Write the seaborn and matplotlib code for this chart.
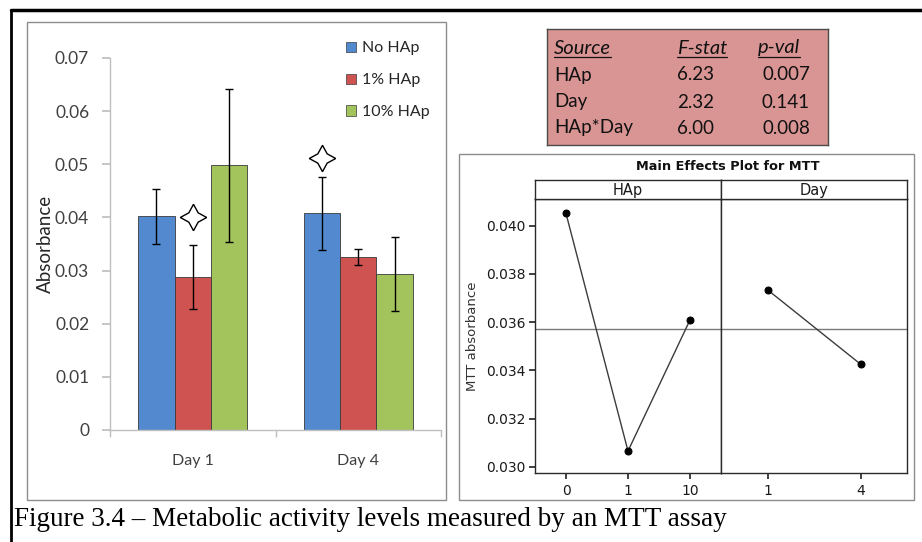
import numpy as np
import pandas as pd
import matplotlib
matplotlib.use("Agg")
import matplotlib.pyplot as plt
from matplotlib.patches import Patch, Rectangle
from matplotlib.lines import Line2D
import seaborn as sns

# ---------------- data ----------------
days = ["Day 1", "Day 4"]
groups = ["No HAp", "1% HAp", "10% HAp"]
no_hap = [0.0402, 0.0408]
one_hap = [0.0288, 0.0326]
ten_hap = [0.0498, 0.0293]
no_hap_err = [0.0052, 0.0069]
one_hap_err = [0.0060, 0.0015]
ten_hap_err = [0.0144, 0.0070]
star_group = ["1% HAp", "No HAp"]
star_day = ["Day 1", "Day 4"]
star_y = [0.0401, 0.0512]
yticks_left = [0, 0.01, 0.02, 0.03, 0.04, 0.05, 0.06, 0.07]
ytick_labels_left = ["0", "0.01", "0.02", "0.03", "0.04", "0.05", "0.06", "0.07"]

table_header = ["Source", "F-stat", "p-val"]
table_source = ["HAp", "Day", "HAp*Day"]
table_f = ["6.23", "2.32", "6.00"]
table_p = ["0.007", "0.141", "0.008"]

hap_levels = ["0", "1", "10"]
hap_means = [0.0405, 0.03066, 0.03609]
day_levels = ["1", "4"]
day_means = [0.03734, 0.03426]
grand_mean = 0.03573
yticks_right = [0.030, 0.032, 0.034, 0.036, 0.038, 0.040]
ytick_labels_right = ["0.030", "0.032", "0.034", "0.036", "0.038", "0.040"]

caption = "Figure 3.4 \u2013 Metabolic activity levels measured by an MTT assay"

# ---------------- figure ----------------
sns.set_theme(style="white")
plt.rcParams["font.family"] = ["Lato", "DejaVu Sans"]
W, H = 922, 542
fig = plt.figure(figsize=(W / 100, H / 100), dpi=100)
fig.patch.set_facecolor("white")


def rect(x0, y0, x1, y1):
    return [x0 / W, 1 - y1 / H, (x1 - x0) / W, (y1 - y0) / H]


def fx(x):
    return x / W


def fy(y):
    return 1 - y / H


# outer frame lines
fig.add_artist(Line2D([fx(11), fx(922)], [fy(10), fy(10)], color="black", lw=2.5))
fig.add_artist(Line2D([fx(11), fx(11)], [fy(10), fy(542)], color="black", lw=2.0))
# left chart border
fig.add_artist(Rectangle((fx(27), fy(500)), fx(446) - fx(27), fy(22) - fy(500),
                         fill=False, edgecolor="#8c8c8c", lw=1.0, transform=fig.transFigure))
# right main-effects border
fig.add_artist(Rectangle((fx(459), fy(500)), fx(914) - fx(459), fy(154) - fy(500),
                         fill=False, edgecolor="#8c8c8c", lw=1.0, transform=fig.transFigure))

# ---------------- left bar chart ----------------
colors = ["#5289cf", "#cf5350", "#a3c35c"]
df = pd.DataFrame({
    "Day": days * 3,
    "Group": [g for g in groups for _ in days],
    "Absorbance": no_hap + one_hap + ten_hap,
})
ax1 = fig.add_axes(rect(110, 58, 441, 430))
sns.barplot(data=df, x="Day", y="Absorbance", hue="Group", order=days, hue_order=groups,
            palette=colors, width=0.66, errorbar=None, saturation=1,
            edgecolor="#3a3a3a", linewidth=0.6, ax=ax1, legend=False)
errs = [no_hap_err, one_hap_err, ten_hap_err]
centers = {}
for g, cont, e in zip(groups, ax1.containers, errs):
    xs = [p.get_x() + p.get_width() / 2 for p in cont]
    ys = [p.get_height() for p in cont]
    for d, x in zip(days, xs):
        centers[(g, d)] = x
    ax1.errorbar(xs, ys, yerr=e, fmt="none", ecolor="black", elinewidth=1.0,
                 capsize=3, capthick=1.0, zorder=5)
for g, d, y in zip(star_group, star_day, star_y):
    ax1.plot([centers[(g, d)]], [y], marker=(4, 1, 0), markersize=19,
             markerfacecolor="white", markeredgecolor="black", markeredgewidth=1.0,
             linestyle="none", zorder=6)

ax1.set_ylim(0, 0.07)
ax1.set_xlim(-0.5, 1.5)
ax1.set_yticks(yticks_left)
ax1.set_yticklabels(ytick_labels_left)
ax1.set_xlabel("")
ax1.set_ylabel("Absorbance", fontsize=13.5, color="#262626", labelpad=1)
for s in ["top", "right"]:
    ax1.spines[s].set_visible(False)
for s in ["left", "bottom"]:
    ax1.spines[s].set_color("#bfbfbf")
    ax1.spines[s].set_linewidth(1.0)
ax1.tick_params(axis="y", which="major", left=True, length=6, color="#bfbfbf",
                labelsize=12.5, labelcolor="#404040", pad=9)
ax1.set_xticks([-0.5, 0.5, 1.5], minor=True)
ax1.tick_params(axis="x", which="minor", bottom=True, length=5, color="#bfbfbf")
ax1.tick_params(axis="x", which="major", bottom=False, length=0, labelsize=11.5,
                labelcolor="#404040", pad=17)
ax1.grid(False)
handles = [Patch(facecolor=c, edgecolor="#3a3a3a", lw=0.5) for c in colors]
fig.legend(handles, groups, loc="upper left", bbox_to_anchor=(fx(332), fy(27)),
           frameon=False, fontsize=11.5, handlelength=0.6, handleheight=0.6,
           handletextpad=0.4, labelspacing=1.12, labelcolor="#262626")

# ---------------- ANOVA table ----------------
axt = fig.add_axes(rect(547, 29, 828, 145))
axt.set_facecolor("#d99594")
axt.set_xlim(547, 828)
axt.set_ylim(145, 29)
axt.set_xticks([])
axt.set_yticks([])
for s in axt.spines.values():
    s.set_color("#4a4a4a")
    s.set_linewidth(1.0)
row_y = [48, 75, 102, 128]
col_x = [554, 677, 758]
fs_tab = 13.5
for x, t in zip(col_x, table_header):
    axt.text(x, row_y[0], t, fontsize=14.5, style="italic", va="center",
             ha="left", color="#111111")
fig.canvas.draw()
renderer = fig.canvas.get_renderer()
inv = axt.transData.inverted()
for txt in [t for t in axt.texts]:
    bb = txt.get_window_extent(renderer)
    (x0, y0), (x1, y1) = inv.transform([[bb.x0, bb.y0], [bb.x1, bb.y1]])
    axt.plot([x0, x1], [row_y[0] + 9, row_y[0] + 9], color="#111111", lw=0.9)
for i in range(3):
    y = row_y[i + 1]
    axt.text(col_x[0], y, table_source[i], fontsize=fs_tab, va="center", ha="left", color="#111111")
    axt.text(col_x[1], y, table_f[i], fontsize=fs_tab, va="center", ha="left", color="#111111")
    axt.text(810, y, table_p[i], fontsize=fs_tab, va="center", ha="right", color="#111111")

# ---------------- main effects plot ----------------
mfont = ["DejaVu Sans"]
fig.text(fx(728), fy(166), "Main Effects Plot for MTT", ha="center", va="center",
         fontsize=9.3, fontweight="bold", family=mfont, color="#111111")
axh = fig.add_axes(rect(535, 199, 721, 473))
axd = fig.add_axes(rect(721, 199, 907, 473), sharey=axh)
for ax, lev, means, strip_r, lab in [
        (axh, hap_levels, hap_means, (535, 180, 721, 199), "HAp"),
        (axd, day_levels, day_means, (721, 180, 907, 199), "Day")]:
    sns.pointplot(x=lev, y=means, order=lev, color="black", markersize=5,
                  linewidth=1.0, errorbar=None, ax=ax)
    for ln in ax.lines:
        ln.set_color("#3c3c3c")
        ln.set_markerfacecolor("black")
        ln.set_markeredgecolor("black")
    ax.axhline(grand_mean, color="#7a7a7a", lw=1.0, zorder=0)
    ax.set_xlim(-0.5, len(lev) - 0.5)
    ax.set_facecolor("white")
    ax.grid(False)
    for s in ax.spines.values():
        s.set_color("#2a2a2a")
        s.set_linewidth(1.0)
    ax.tick_params(axis="x", bottom=True, length=4, color="#2a2a2a", labelsize=10,
                   labelcolor="#1a1a1a", pad=4)
    for t in ax.get_xticklabels():
        t.set_family(mfont)
    ax.set_xlabel("")
    axs = fig.add_axes(rect(*strip_r))
    axs.set_xticks([])
    axs.set_yticks([])
    axs.set_facecolor("white")
    for s in axs.spines.values():
        s.set_color("#2a2a2a")
        s.set_linewidth(1.0)
    axs.text(0.5, 0.45, lab, transform=axs.transAxes, ha="center", va="center",
             fontsize=10.5, family=mfont, color="#1a1a1a")

axh.set_ylim(0.02975, 0.0411)
axh.set_yticks(yticks_right)
axh.set_yticklabels(ytick_labels_right)
axh.tick_params(axis="y", left=True, length=4, color="#2a2a2a", labelsize=10,
                labelcolor="#1a1a1a", pad=3)
for t in axh.get_yticklabels():
    t.set_family(mfont)
axh.set_ylabel("MTT absorbance", fontsize=9.5, family=mfont, color="#333333", labelpad=5)
axd.tick_params(axis="y", left=False, labelleft=False)
axd.set_ylabel("")

# ---------------- caption ----------------
fig.text(fx(14), fy(520), caption, ha="left", va="center", fontsize=19.5,
         family=["Liberation Serif"], color="black")

fig.savefig("out.png", dpi=100)
